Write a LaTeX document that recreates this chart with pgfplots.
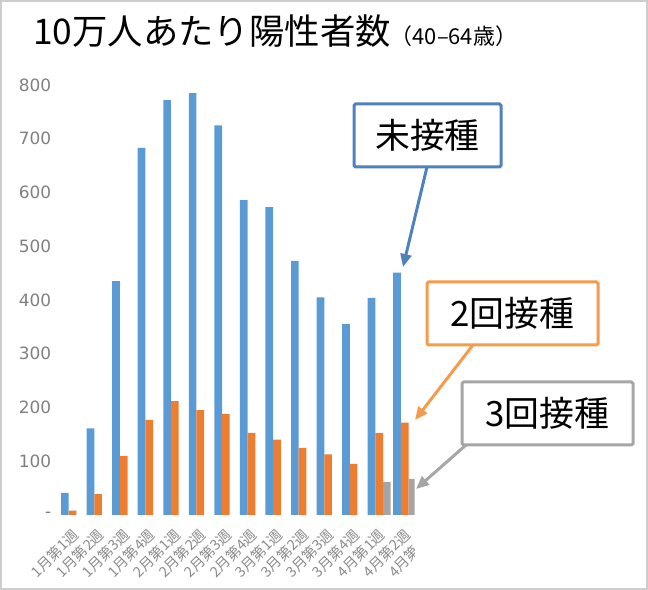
\documentclass[border=0pt]{standalone}
\usepackage{fontspec}
\setmainfont{Noto Sans CJK JP}
\newfontfamily\numfont{DejaVu Sans}
\usepackage{pgfplots}
\pgfplotsset{compat=1.18}
\usetikzlibrary{arrows.meta}
\definecolor{cblue}{HTML}{5B9BD5}
\definecolor{corange}{HTML}{ED7D31}
\definecolor{cgray}{HTML}{A5A5A5}
\definecolor{tickgray}{RGB}{128,128,128}
\definecolor{xtickgray}{RGB}{140,140,140}
\definecolor{boxblue}{RGB}{79,129,189}
\definecolor{boxorange}{RGB}{245,155,75}
\definecolor{boxgray}{RGB}{166,166,166}
\definecolor{framegray}{RGB}{205,205,205}
\newcommand{\yl}[1]{\numfont\fontsize{17}{17}\selectfont #1}

\begin{document}
\begin{tikzpicture}[x=1bp,y=1bp]
\useasboundingbox (0,0) rectangle (648,590);
\node[anchor=base west, inner sep=0] at (33,545) {\fontsize{35.5}{35.5}\selectfont 10万人あたり陽性者数\fontsize{22}{22}\selectfont（40–64歳）};
\begin{scope}
\clip (0,0) rectangle (414.5,530);
\begin{axis}[
  at={(59.8bp,75bp)}, anchor=south west,
  width=383.25bp, height=430bp, scale only axis,
  xmin=-0.5, xmax=14.5, ymin=0, ymax=800,
  axis line style={draw=none}, major tick length=0,
  xtick={0,1,...,14},
  xticklabels={1月第1週,1月第2週,1月第3週,1月第4週,2月第1週,2月第2週,2月第3週,2月第4週,3月第1週,3月第2週,3月第3週,3月第4週,4月第1週,4月第2週,4月第3週},
  ytick={0,100,...,800},
  yticklabels={{\yl{-}},{\yl{100}},{\yl{200}},{\yl{300}},{\yl{400}},{\yl{500}},{\yl{600}},{\yl{700}},{\yl{800}}},
  xticklabel style={font=\fontsize{14.5}{14.5}\selectfont, text=xtickgray, xshift=3bp, yshift=-17bp, rotate=45, anchor=east, inner sep=0pt},
  yticklabel style={text=tickgray, xshift=-5bp},
  /pgf/number format/assume math mode=true,
]
\addplot[ybar, bar width=0.3, bar shift=-0.3, fill=cblue, draw=none] coordinates {
(0,41) (1,161) (2,435) (3,683) (4,772) (5,785) (6,725) (7,586) (8,573) (9,473) (10,405) (11,355) (12,404) (13,451)};
\addplot[ybar, bar width=0.3, bar shift=0, fill=corange, draw=none] coordinates {
(0,8) (1,39) (2,110) (3,177) (4,212) (5,195) (6,188) (7,153) (8,140) (9,125) (10,113) (11,95) (12,153) (13,172)};
\addplot[ybar, bar width=0.3, bar shift=0.3, fill=cgray, draw=none] coordinates {
(12,61) (13,67)};
\end{axis}
\end{scope}
% callouts
\draw[boxblue, line width=3bp, -{Triangle[length=13bp,width=11bp]}] (427,423) -- (403,323);
\draw[boxorange, line width=3bp, -{Triangle[length=13bp,width=11bp]}] (473,245) -- (415,170);
\draw[boxgray, line width=3bp, -{Triangle[length=13bp,width=11bp]}] (466,145) -- (416,101);
\draw[boxblue, line width=3bp, fill=white, rounded corners=1.5bp] (354,423) rectangle (501,486);
\draw[boxorange, line width=3bp, fill=white, rounded corners=1.5bp] (427,245) rectangle (598,308);
\draw[boxgray, line width=3bp, fill=white, rounded corners=1.5bp] (462,145) rectangle (633,208);
\node at (427.5,454.5) {\fontsize{35}{35}\selectfont 未接種};
\node at (512.5,276.5) {\fontsize{35}{35}\selectfont 2回接種};
\node at (547.5,176.5) {\fontsize{35}{35}\selectfont 3回接種};
\draw[framegray, line width=2bp] (1,1) rectangle (647,589);
\end{tikzpicture}
\end{document}
